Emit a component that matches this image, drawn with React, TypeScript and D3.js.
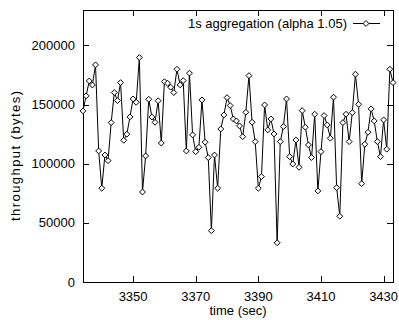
import React, { useEffect, useRef } from 'react';
import * as d3 from 'd3';

const startSecond = 3334;
const throughput = [
  144700, 157400, 170000, 166600, 183600, 110800, 79300, 107400, 102600, 134800,
  160200, 153400, 168600, 119800, 125000, 139600, 154800, 152000, 189800, 76100,
  106600, 154500, 139500, 135000, 153300, 117500, 169400, 168100, 164700, 160200,
  179900, 166700, 170300, 110800, 176600, 124400, 110200, 113900, 154000, 118200,
  105200, 43400, 107400, 79300, 129400, 141300, 155900, 149200, 137900, 136200,
  132000, 122900, 143500, 174500, 135100, 118700, 79300, 89100, 149700, 128600,
  137900, 125200, 33200, 118700, 131400, 154800, 106000, 99800, 120100, 97000,
  144900, 130900, 115900, 105200, 141900, 77000, 110200, 140700, 132800, 121600,
  156300, 79800, 55600, 134800, 141900, 118700, 143200, 175700, 150300, 83200,
  116500, 126600, 146400, 136200, 118700, 106000, 137100, 112300, 179900, 168600,
];
const xTicks = [3350, 3370, 3390, 3410, 3430];
const yTicks = [0, 50000, 100000, 150000, 200000];
const legendLabel = '1s aggregation (alpha 1.05)';

const App = () => {
  const svgRef = useRef<SVGSVGElement>(null);

  useEffect(() => {
    const svg = d3.select(svgRef.current);
    svg.selectAll('*').remove();

    const width = 399;
    const height = 320;
    const margin = { top: 10, right: 6, bottom: 38, left: 83 };
    const font = '"Liberation Sans", Arial, sans-serif';

    const data = throughput.map((v, i) => ({ t: startSecond + i, v }));

    const x = d3.scaleLinear()
      .domain([startSecond, startSecond + throughput.length - 1])
      .range([margin.left, width - margin.right]);
    const y = d3.scaleLinear()
      .domain([0, 230000])
      .range([height - margin.bottom, margin.top]);

    const tick = 6;
    const axes = svg.append('g').attr('stroke', '#000').attr('stroke-width', 1);

    // ticks on all four sides, pointing inwards (gnuplot style)
    yTicks.forEach(v => {
      const yy = Math.round(y(v)) + 0.5;
      axes.append('line').attr('x1', x.range()[0]).attr('x2', x.range()[0] + tick).attr('y1', yy).attr('y2', yy);
      axes.append('line').attr('x1', x.range()[1]).attr('x2', x.range()[1] - tick).attr('y1', yy).attr('y2', yy);
      svg.append('text')
        .attr('x', margin.left - 8).attr('y', y(v) + 4.5)
        .attr('text-anchor', 'end')
        .style('font-family', font).style('font-size', '13px')
        .text(String(v));
    });
    xTicks.forEach(v => {
      const xx = Math.round(x(v)) + 0.5;
      axes.append('line').attr('x1', xx).attr('x2', xx).attr('y1', y.range()[0]).attr('y2', y.range()[0] - tick);
      axes.append('line').attr('x1', xx).attr('x2', xx).attr('y1', y.range()[1]).attr('y2', y.range()[1] + tick);
      svg.append('text')
        .attr('x', x(v)).attr('y', y.range()[0] + 19)
        .attr('text-anchor', 'middle')
        .style('font-family', font).style('font-size', '13px')
        .text(String(v));
    });

    svg.append('rect')
      .attr('x', margin.left + 0.5).attr('y', margin.top + 0.5)
      .attr('width', width - margin.left - margin.right)
      .attr('height', height - margin.top - margin.bottom)
      .attr('fill', 'none').attr('stroke', '#000');

    // axis titles
    svg.append('text')
      .attr('x', (x.range()[0] + x.range()[1]) / 2).attr('y', height - 5)
      .attr('text-anchor', 'middle')
      .style('font-family', font).style('font-size', '13px')
      .text('time (sec)');
    svg.append('text')
      .attr('transform', 'rotate(-90)')
      .attr('x', -156).attr('y', 20)
      .attr('text-anchor', 'middle')
      .attr('textLength', 130).attr('lengthAdjust', 'spacing')
      .style('font-family', font).style('font-size', '13px')
      .text('throughput (bytes)');

    const diamond = d3.symbol().type(d3.symbolDiamond2).size(22);

    const line = d3.line<{ t: number; v: number }>()
      .x(d => x(d.t))
      .y(d => y(d.v));

    svg.append('path')
      .datum(data)
      .attr('fill', 'none')
      .attr('stroke', '#000')
      .attr('stroke-width', 1)
      .attr('d', line);

    svg.append('g')
      .selectAll('path')
      .data(data)
      .enter()
      .append('path')
      .attr('transform', d => `translate(${x(d.t)},${y(d.v)})`)
      .attr('d', diamond)
      .attr('fill', '#fff')
      .attr('stroke', '#000')
      .attr('stroke-width', 1);

    // legend
    const legendY = 23.5;
    svg.append('text')
      .attr('x', 347).attr('y', legendY + 4.5)
      .attr('text-anchor', 'end')
      .style('font-family', font).style('font-size', '13px')
      .text(legendLabel);
    svg.append('line')
      .attr('x1', 353).attr('x2', 380).attr('y1', legendY).attr('y2', legendY)
      .attr('stroke', '#000');
    svg.append('path')
      .attr('transform', `translate(366,${legendY})`)
      .attr('d', diamond)
      .attr('fill', '#fff').attr('stroke', '#000');
  }, []);

  return (
    <svg ref={svgRef} width={399} height={320}
      style={{ position: 'absolute', left: 0, top: 0, background: '#fff' }} />
  );
};

export default App;
